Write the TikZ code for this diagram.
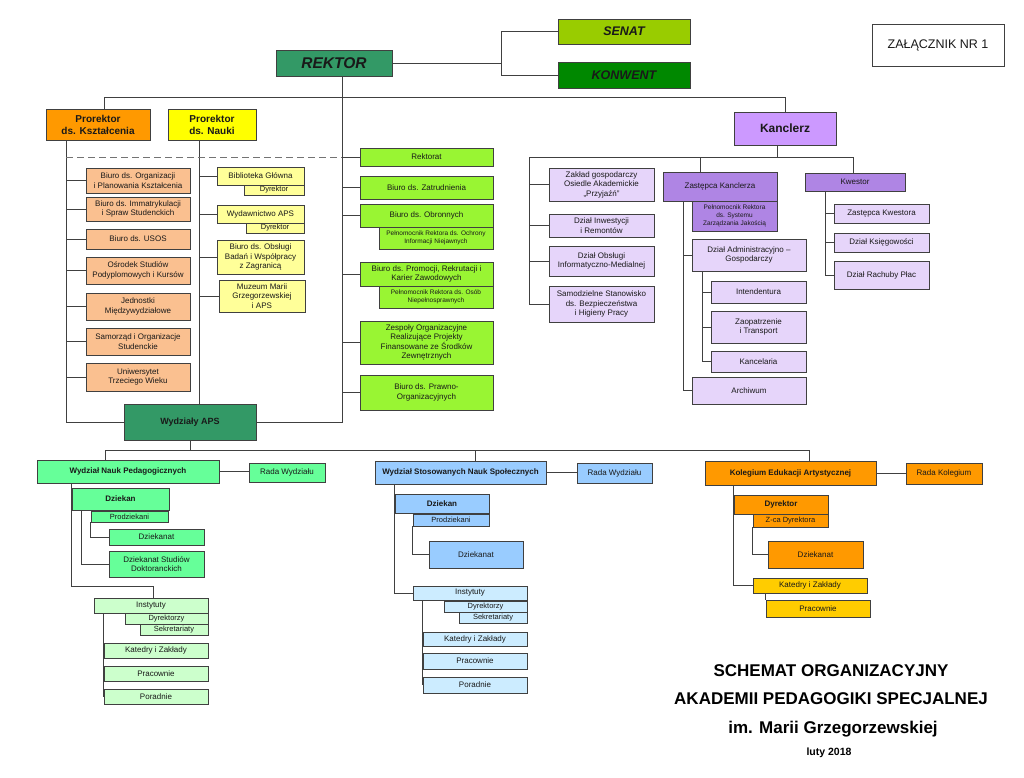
\documentclass[tikz,border=0pt]{standalone}
\usepackage{fontspec}
\setmainfont{Liberation Sans}
\usetikzlibrary{positioning}

\definecolor{rekgreen}{HTML}{339966}
\definecolor{senatc}{HTML}{99CC00}
\definecolor{konwentc}{HTML}{008800}
\definecolor{orangeP}{HTML}{FF9900}
\definecolor{yellowP}{HTML}{FFFF00}
\definecolor{orangeL}{HTML}{FAC090}
\definecolor{yellowL}{HTML}{FFFF99}
\definecolor{greenL}{HTML}{99F533}
\definecolor{purpleK}{HTML}{CC99FF}
\definecolor{purpleM}{HTML}{AF85E4}
\definecolor{purpleL}{HTML}{E6D5FA}
\definecolor{greenW}{HTML}{66FF99}
\definecolor{greenI}{HTML}{CCFFCC}
\definecolor{blueW}{HTML}{99CCFF}
\definecolor{blueI}{HTML}{CCECFF}
\definecolor{goldK}{HTML}{FFCC00}

\begin{document}
\begin{tikzpicture}[
  x=1pt, y=-1pt,
  box/.style={rectangle, draw=black!75, line width=0.9pt, fill=#1, align=center, inner sep=0.5pt, text=black!90, font=\fontsize{8}{9.5}\selectfont},
  sz/.style 2 args={minimum width=#1, minimum height=#2},
  boldtxt/.style={font=\bfseries\fontsize{8}{9.5}\selectfont},
  smalltxt/.style={font=\fontsize{6.5}{8}\selectfont},
  subtxt/.style={font=\fontsize{7.5}{9}\selectfont},
  conn/.style={draw=black!75, line width=0.9pt},
  dashline/.style={draw=black!55, line width=1pt, dash pattern=on 7pt off 4pt},
  title/.style={font=\bfseries\fontsize{17}{20}\selectfont}
]

  \path[use as bounding box, fill=white] (0,0) rectangle (1024,777);

  \node[box=rekgreen, sz={116}{26}, font=\bfseries\itshape\fontsize{15.5}{18}\selectfont] (rektor) at (334,63) {REKTOR};
  \node[box=senatc, sz={132}{25}, font=\bfseries\itshape\fontsize{12.5}{15}\selectfont] (senat) at (624,31.5) {SENAT};
  \node[box=konwentc, sz={132}{26}, font=\bfseries\itshape\fontsize{12.5}{15}\selectfont] (konwent) at (624,75) {KONWENT};
  \node[box=white, sz={132}{42}, font=\fontsize{12.5}{15}\selectfont] (zal) at (938,45) {ZAŁĄCZNIK NR 1};

  \node[box=orangeP, sz={104}{31}, font=\bfseries\fontsize{10}{12}\selectfont] (prk) at (98,124.5) {Prorektor\\ds. Kształcenia};
  \node[box=yellowP, sz={88}{31}, font=\bfseries\fontsize{10}{12}\selectfont] (prn) at (212,124.5) {Prorektor\\ds. Nauki};
  \node[box=purpleK, sz={102}{33}, font=\bfseries\fontsize{12}{14}\selectfont] (kanclerz) at (785,128.5) {Kanclerz};

  \node[box=orangeL, sz={104}{25}] (o1) at (138,180.5) {Biuro ds. Organizacji\\i Planowania Kształcenia};
  \node[box=orangeL, sz={104}{24}] (o2) at (138,209) {Biuro ds. Immatrykulacji\\i Spraw Studenckich};
  \node[box=orangeL, sz={104}{20}] (o3) at (138,239) {Biuro ds. USOS};
  \node[box=orangeL, sz={104}{27}] (o4) at (138,270.5) {Ośrodek Studiów\\Podyplomowych i Kursów};
  \node[box=orangeL, sz={104}{27}] (o5) at (138,306.5) {Jednostki\\Międzywydziałowe};
  \node[box=orangeL, sz={104}{27}] (o6) at (138,341.5) {Samorząd i Organizacje\\Studenckie};
  \node[box=orangeL, sz={104}{28}] (o7) at (138,377) {Uniwersytet\\Trzeciego Wieku};

  \node[box=yellowL, sz={87}{18}] (y1) at (260.5,176) {Biblioteka Główna};
  \node[box=yellowL, sz={60}{10}, subtxt] (y1d) at (274,190) {Dyrektor};
  \node[box=yellowL, sz={87}{18}] (y2) at (260.5,214) {Wydawnictwo APS};
  \node[box=yellowL, sz={58}{10}, subtxt] (y2d) at (275,228) {Dyrektor};
  \node[box=yellowL, sz={87}{34}] (y3) at (260.5,257) {Biuro ds. Obsługi\\Badań i Współpracy\\z Zagranicą};
  \node[box=yellowL, sz={86}{32}] (y4) at (262,296) {Muzeum Marii\\Grzegorzewskiej\\i APS};

  \node[box=greenL, sz={133}{18}] (g1) at (426.5,157) {Rektorat};
  \node[box=greenL, sz={133}{23}] (g2) at (426.5,187.5) {Biuro ds. Zatrudnienia};
  \node[box=greenL, sz={133}{23}] (g3) at (426.5,215.5) {Biuro ds. Obronnych};
  \node[box=greenL, sz={114}{22}, smalltxt] (g3p) at (436,238) {Pełnomocnik Rektora ds. Ochrony\\Informacji Niejawnych};
  \node[box=greenL, sz={133}{24}] (g4) at (426.5,274) {Biuro ds. Promocji, Rekrutacji i\\Karier Zawodowych};
  \node[box=greenL, sz={114}{22}, smalltxt] (g4p) at (436,297) {Pełnomocnik Rektora ds. Osób\\Niepełnosprawnych};
  \node[box=greenL, sz={133}{43}] (g5) at (426.5,342.5) {Zespoły Organizacyjne\\Realizujące Projekty\\Finansowane ze Środków\\Zewnętrznych};
  \node[box=greenL, sz={133}{35}] (g6) at (426.5,392.5) {Biuro ds. Prawno-\\Organizacyjnych};

  \node[box=rekgreen, sz={132}{36}, font=\bfseries\fontsize{9}{11}\selectfont] (wapsy) at (190,422) {Wydziały APS};

  \node[box=purpleL, sz={105}{33}] (p1) at (601.5,184.5) {Zakład gospodarczy\\Osiedle Akademickie\\„Przyjaźń”};
  \node[box=purpleL, sz={105}{23}] (p2) at (601.5,225.5) {Dział Inwestycji\\i Remontów};
  \node[box=purpleL, sz={105}{30}] (p3) at (601.5,261) {Dział Obsługi\\Informatyczno-Medialnej};
  \node[box=purpleL, sz={105}{36}] (p4) at (601.5,304) {Samodzielne Stanowisko\\ds. Bezpieczeństwa\\i Higieny Pracy};

  \node[box=purpleM, sz={114}{29}] (zk) at (720,186.5) {Zastępca Kanclerza};
  \node[box=purpleM, sz={85}{30}, smalltxt] (zkp) at (734.5,216) {Pełnomocnik Rektora\\ds. Systemu\\Zarządzania Jakością};
  \node[box=purpleL, sz={114}{32}] (da) at (749,255) {Dział Administracyjno –\\Gospodarczy};
  \node[box=purpleL, sz={95}{22}] (inte) at (758.5,292) {Intendentura};
  \node[box=purpleL, sz={95}{32}] (za) at (758.5,327) {Zaopatrzenie\\i Transport};
  \node[box=purpleL, sz={95}{21}] (ka) at (758.5,361.5) {Kancelaria};
  \node[box=purpleL, sz={114}{27}] (ar) at (749,390.5) {Archiwum};

  \node[box=purpleM, sz={100}{18}] (kw) at (855,182) {Kwestor};
  \node[box=purpleL, sz={95}{19}] (kw1) at (881.5,213.5) {Zastępca Kwestora};
  \node[box=purpleL, sz={95}{19}] (kw2) at (881.5,242.5) {Dział Księgowości};
  \node[box=purpleL, sz={95}{28}] (kw3) at (881.5,275) {Dział Rachuby Płac};

  \node[box=greenW, sz={182}{23}, boldtxt] (wnp) at (128,471.5) {Wydział Nauk Pedagogicznych};
  \node[box=greenW, sz={76}{19}] (wnpr) at (287,472.5) {Rada Wydziału};
  \node[box=greenW, sz={97}{22}, boldtxt] (wnpd) at (120.5,499) {Dziekan};
  \node[box=greenW, sz={77}{11}, subtxt] (wnpp) at (129.5,516.5) {Prodziekani};
  \node[box=greenW, sz={95}{16}] (wnpk) at (156.5,537) {Dziekanat};
  \node[box=greenW, sz={95}{26}] (wnps) at (156.5,564) {Dziekanat Studiów\\Doktoranckich};
  \node[box=greenI, sz={114}{15}] (wnpi) at (151,605.5) {Instytuty};
  \node[box=greenI, sz={83}{11}, subtxt] (wnpdy) at (166.5,618.5) {Dyrektorzy};
  \node[box=greenI, sz={68}{11}, subtxt] (wnpse) at (174,629.5) {Sekretariaty};
  \node[box=greenI, sz={104}{15}] (wnpka) at (156,650.5) {Katedry i Zakłady};
  \node[box=greenI, sz={104}{15}] (wnppr) at (156,673.5) {Pracownie};
  \node[box=greenI, sz={104}{15}] (wnppo) at (156,696.5) {Poradnie};

  \node[box=blueW, sz={171}{23}, boldtxt] (wsns) at (460.5,472.5) {Wydział Stosowanych Nauk Społecznych};
  \node[box=blueW, sz={75}{20}] (wsnsr) at (614.5,473) {Rada Wydziału};
  \node[box=blueW, sz={94}{19}, boldtxt] (wsnsd) at (442,503.5) {Dziekan};
  \node[box=blueW, sz={76}{12}, subtxt] (wsnsp) at (451,520) {Prodziekani};
  \node[box=blueW, sz={94}{27}] (wsnsk) at (476,554.5) {Dziekanat};
  \node[box=blueI, sz={114}{14}] (wsnsi) at (470,593) {Instytuty};
  \node[box=blueI, sz={83}{11}, subtxt] (wsnsdy) at (485.5,606.5) {Dyrektorzy};
  \node[box=blueI, sz={68}{11}, subtxt] (wsnsse) at (493,617.5) {Sekretariaty};
  \node[box=blueI, sz={104}{14}] (wsnska) at (475,639) {Katedry i Zakłady};
  \node[box=blueI, sz={104}{16}] (wsnspr) at (475,661) {Pracownie};
  \node[box=blueI, sz={104}{16}] (wsnspo) at (475,685) {Poradnie};

  \node[box=orangeP, sz={171}{24}, boldtxt] (kea) at (790.5,473) {Kolegium Edukacji Artystycznej};
  \node[box=orangeP, sz={76}{21}] (kear) at (944,473.5) {Rada Kolegium};
  \node[box=orangeP, sz={94}{19}, boldtxt] (kead) at (781,504.5) {Dyrektor};
  \node[box=orangeP, sz={75}{13}, subtxt] (keaz) at (790.5,520.5) {Z-ca Dyrektora};
  \node[box=orangeP, sz={95}{27}] (keak) at (815.5,554.5) {Dziekanat};
  \node[box=goldK, sz={114}{15}] (keaka) at (810,585.5) {Katedry i Zakłady};
  \node[box=goldK, sz={104}{17}] (keapr) at (818,608.5) {Pracownie};

  \node[title] (t1) at (831,671) {SCHEMAT ORGANIZACYJNY};
  \node[title] (t2) at (831,699) {AKADEMII PEDAGOGIKI SPECJALNEJ};
  \node[title] (t3) at (833,729) {im. Marii Grzegorzewskiej};
  \node[font=\bfseries\fontsize{10.5}{12}\selectfont] (t4) at (829,753) {luty 2018};

  \coordinate (rs) at (342,76);

  \draw[conn] (rektor.east) -- ++(109,0) coordinate (rj);
  \draw[conn] (senat.west) -| (rj) |- (konwent.west);
  \draw[conn] (rs) |- (wapsy.east);
  \draw[conn] ([xshift=6pt]prk.north) -- ++(0,-11) -| (kanclerz.north);

  \draw[conn] ([xshift=-32pt]prk.south) coordinate (ks) |- (wapsy.west);
  \draw[conn] ([xshift=-13pt]prn.south) coordinate (ns) -- (ns |- wapsy.north);
  \draw[dashline] (ks |- g1.west) -- (rs |- g1.west);

  \foreach \n in {o1,o2,o3,o4,o5,o6,o7}
    \draw[conn] (\n.west) -- (\n.west -| ks);
  \foreach \n in {y1,y2,y3,y4}
    \draw[conn] (\n.west) -- (\n.west -| ns);
  \foreach \n in {g1,g2,g3,g4,g5,g6}
    \draw[conn] (\n.west) -- (\n.west -| rs);

  \draw[conn] ([xshift=-8pt]kanclerz.south) -- ++(0,12) coordinate (kj);
  \draw[conn] (kj) -| ([xshift=-2pt]kw.north);
  \draw[conn] (kj) -| ([xshift=-20pt]zk.north);
  \draw[conn] (kj) -| ([xshift=-19pt]p1.west) |- (p4.west);
  \foreach \n in {p1,p2,p3}
    \draw[conn] (\n.west) -- ++(-19,0);

  \draw[conn] ([xshift=-37pt]zk.south) |- (ar.west);
  \draw[conn] (da.west) -- ++(-9,0);
  \draw[conn] ([xshift=-47pt]da.south) |- (ka.west);
  \draw[conn] (inte.west) -- ++(-9,0);
  \draw[conn] (za.west) -- ++(-9,0);

  \draw[conn] ([xshift=-30pt]kw.south) |- (kw3.west);
  \draw[conn] (kw1.west) -- ++(-9,0);
  \draw[conn] (kw2.west) -- ++(-9,0);

  \draw[conn] (wapsy.south) -- ++(0,10) coordinate (wj);
  \draw[conn] (wj) -| ([xshift=-23pt]wnp.north);
  \draw[conn] (wj) -| ([xshift=14.5pt]wsns.north);
  \draw[conn] (wj) -| ([xshift=18.5pt]kea.north);

  \draw[conn] (wnp.east) -- (wnp.east -| wnpr.west);
  \draw[conn] (wnpd.west |- wnp.south) -- ++(0,103) -| ([xshift=2pt]wnpi.north);
  \draw[conn] ([xshift=10pt]wnpd.south west) |- (wnps.west);
  \draw[conn] (wnpp.south west) |- (wnpk.west);
  \draw[conn] (wnpka.west |- wnpi.south) -- (wnppo.west);

  \draw[conn] (wsns.east) -- (wsns.east -| wsnsr.west);
  \draw[conn] (wsnsd.west |- wsns.south) |- (wsnsi.west);
  \draw[conn] (wsnsp.south west) |- (wsnsk.west);
  \draw[conn] (wsnska.west |- wsnsi.south) -- (wsnspo.west);

  \draw[conn] (kea.east) -- (kea.east -| kear.west);
  \draw[conn] (kead.west |- kea.south) |- (keaka.west);
  \draw[conn] (keaz.south west) |- (keak.west);
  \draw[conn] (keapr.north west |- keaka.south) -- (keapr.north west);

\end{tikzpicture}
\end{document}
